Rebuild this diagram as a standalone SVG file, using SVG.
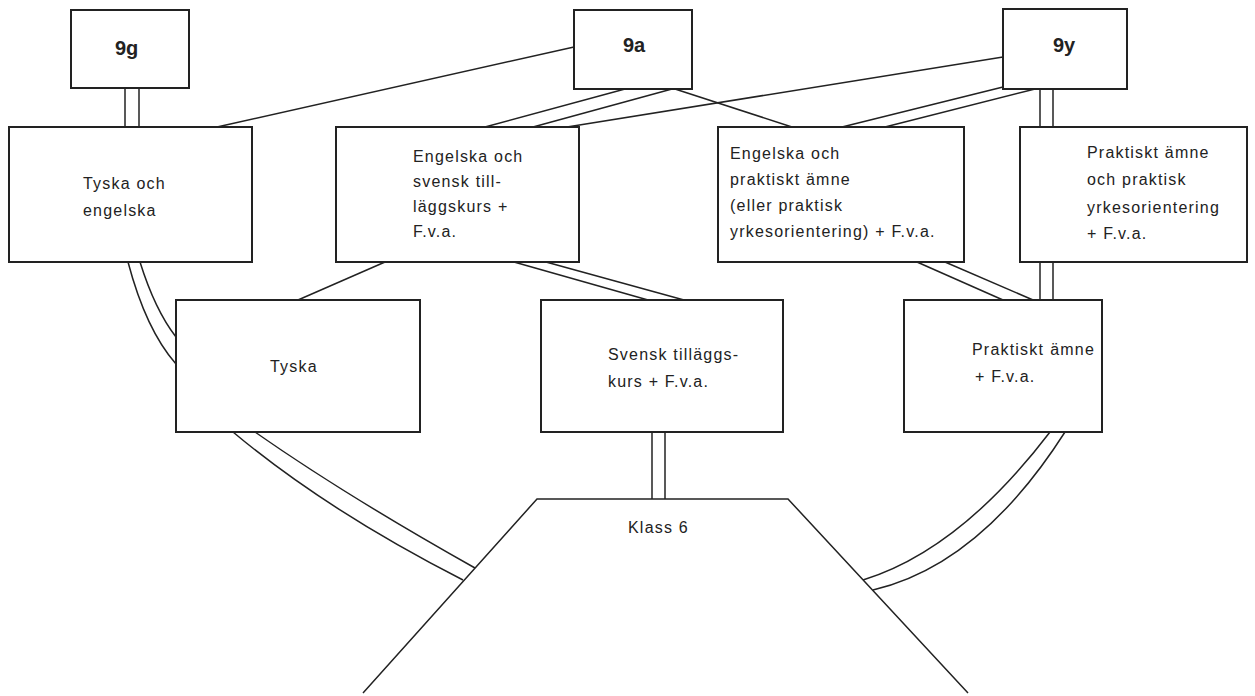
<svg xmlns="http://www.w3.org/2000/svg" width="1255" height="696" viewBox="0 0 1255 696">
<style>
.box{fill:#fff;stroke:#222;stroke-width:2}
.ln{fill:none;stroke:#222;stroke-width:1.5}
.t{font-family:"Liberation Sans",Arial,sans-serif;font-size:16px;letter-spacing:1.2px;fill:#222}
.h{font-family:"Liberation Sans",Arial,sans-serif;font-size:20px;font-weight:bold;fill:#222}
</style>
<rect width="1255" height="696" fill="#fff"/>
<g id="connectors">
<line class="ln" x1="125" y1="88" x2="125" y2="127"/>
<line class="ln" x1="139" y1="88" x2="139" y2="127"/>
<line class="ln" x1="574" y1="47" x2="217" y2="127"/>
<line class="ln" x1="625" y1="89" x2="485" y2="127"/>
<line class="ln" x1="672" y1="89" x2="533" y2="127"/>
<line class="ln" x1="675" y1="89" x2="792" y2="127"/>
<line class="ln" x1="1003" y1="57" x2="567" y2="127"/>
<line class="ln" x1="1003" y1="87" x2="842" y2="127"/>
<line class="ln" x1="1035" y1="89" x2="885" y2="127"/>
<line class="ln" x1="1040" y1="89" x2="1040" y2="127"/>
<line class="ln" x1="1053" y1="89" x2="1053" y2="127"/>
<path class="ln" d="M128,262 Q146,330 176,364"/>
<path class="ln" d="M140,262 Q155,310 176,337"/>
<line class="ln" x1="385" y1="262" x2="298" y2="300"/>
<line class="ln" x1="514" y1="262" x2="648" y2="300"/>
<line class="ln" x1="546" y1="262" x2="684" y2="300"/>
<line class="ln" x1="917" y1="262" x2="1003" y2="300"/>
<line class="ln" x1="945" y1="262" x2="1033" y2="300"/>
<line class="ln" x1="1040" y1="262" x2="1040" y2="300"/>
<line class="ln" x1="1053" y1="262" x2="1053" y2="300"/>
<line class="ln" x1="652" y1="432" x2="652" y2="499"/>
<line class="ln" x1="665" y1="432" x2="665" y2="499"/>
<path class="ln" d="M233,432 Q326,510 463,580"/>
<path class="ln" d="M255,432 Q345,495 475,568"/>
<path class="ln" d="M1050,432 Q960,550 863,580"/>
<path class="ln" d="M1065,432 Q980,565 873,590"/>
</g>
<g id="n9g"><rect class="box" x="71" y="10" width="118" height="78"/><text class="h" x="115" y="55">9g</text></g>
<g id="n9a"><rect class="box" x="574" y="10" width="118" height="79"/><text class="h" x="623" y="52">9a</text></g>
<g id="n9y"><rect class="box" x="1003" y="9" width="124" height="80"/><text class="h" x="1053" y="52">9y</text></g>
<g id="tyskaengelska"><rect class="box" x="9" y="127" width="243" height="135"/>
<text class="t" x="83" y="189">Tyska och</text><text class="t" x="83" y="216">engelska</text></g>
<g id="engsvensk"><rect class="box" x="336" y="127" width="243" height="135"/>
<text class="t" x="413" y="162">Engelska och</text><text class="t" x="413" y="187">svensk till-</text><text class="t" x="413" y="212">läggskurs +</text><text class="t" x="413" y="237">F.v.a.</text></g>
<g id="engprakt"><rect class="box" x="718" y="127" width="246" height="135"/>
<text class="t" x="730" y="159">Engelska och</text><text class="t" x="730" y="185">praktiskt ämne</text><text class="t" x="730" y="211">(eller praktisk</text><text class="t" x="730" y="237">yrkesorientering) + F.v.a.</text></g>
<g id="praktyrke"><rect class="box" x="1020" y="127" width="227" height="135"/>
<text class="t" x="1087" y="158">Praktiskt ämne</text><text class="t" x="1087" y="185">och praktisk</text><text class="t" x="1087" y="213">yrkesorientering</text><text class="t" x="1087" y="239"> + F.v.a.</text></g>
<g id="tyska"><rect class="box" x="176" y="300" width="244" height="132"/><text class="t" x="270" y="372">Tyska</text></g>
<g id="svensk"><rect class="box" x="541" y="300" width="242" height="132"/>
<text class="t" x="608" y="360">Svensk tilläggs-</text><text class="t" x="608" y="387">kurs + F.v.a.</text></g>
<g id="praktamne"><rect class="box" x="904" y="300" width="198" height="132"/>
<text class="t" x="972" y="355">Praktiskt<tspan dx="6">ämne</tspan></text><text class="t" x="975" y="382">+ F.v.a.</text></g>
<g id="klass6"><path class="ln" d="M363,693 L537,499 L788,499 L968,693"/><text class="t" x="628" y="533">Klass 6</text></g>
</svg>
